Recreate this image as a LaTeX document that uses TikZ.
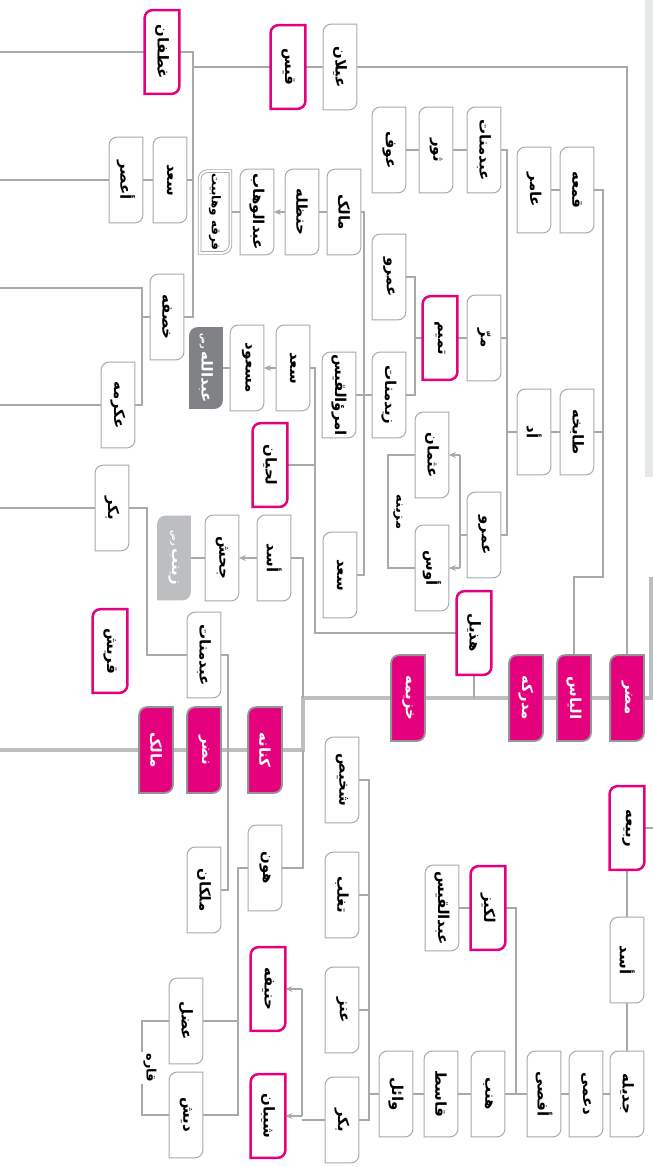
\documentclass[tikz,border=0pt]{standalone}
\usepackage{fontspec}
\usepackage{graphicx}
\newfontfamily\arabicfont[Script=Arabic]{DejaVu Sans}
\TeXXeTstate=1
\usetikzlibrary{arrows.meta}

\definecolor{tribepink}{HTML}{E5007D}
\definecolor{linegray}{HTML}{A7A9AC}
\definecolor{trunkgray}{HTML}{BCBEC0}
\definecolor{stemgray}{HTML}{939598}
\definecolor{darkbox}{HTML}{808285}
\definecolor{lightbox}{HTML}{BCBEC0}
\definecolor{stripgray}{HTML}{E6E7E8}

\pgfdeclarelayer{links}
\pgfdeclarelayer{frames}
\pgfsetlayers{links,frames,main}

% vertical Persian name
\newcommand{\vt}[1]{\rotatebox{-90}{\arabicfont\bfseries\beginR #1\endR}}
% small honorific after a name
\newcommand{\hon}{\,{\fontsize{4}{4}\selectfont رض}}
% name box: two rounded corners, frame drawn under the text
\newcommand{\fambox}[4][famplain]{%
  \node[#1] (#2) at (#3) {\vt{#4}};
  \begin{pgfonlayer}{frames}
    \draw[#1 frame] ([yshift=-4pt]#2.north west) arc[start angle=180, end angle=90, radius=4pt]
      -- (#2.north east) -- ([yshift=4pt]#2.south east) arc[start angle=0, end angle=-90, radius=4pt]
      -- (#2.south west) -- cycle;
  \end{pgfonlayer}}

\begin{document}
\begin{tikzpicture}[
  x=0.5pt, y=-0.5pt,
  famtext/.style={inner sep=0pt, minimum width=16.5pt, minimum height=42.5pt,
                  font=\fontsize{7.5}{8}\selectfont},
  famplain/.style={famtext},
  famplain frame/.style={draw=linegray, fill=white, line width=0.5pt},
  famtribe/.style={famtext, minimum width=17pt, minimum height=41.5pt},
  famtribe frame/.style={draw=tribepink, fill=white, line width=1.25pt},
  famstem/.style={famtext, text=white},
  famstem frame/.style={draw=stemgray, fill=tribepink, line width=0.9pt},
  famdark/.style={famtext, text=white, minimum width=16pt, minimum height=40pt},
  famdark frame/.style={draw=darkbox, fill=darkbox, line width=0.5pt},
  famlight/.style={famtext, text=white, minimum width=16pt, minimum height=41.5pt},
  famlight frame/.style={draw=lightbox, fill=lightbox, line width=0.5pt},
  famdouble/.style={famtext, minimum width=15pt, minimum height=40.5pt,
                    font=\fontsize{6}{6.5}\selectfont},
  famdouble frame/.style={draw=linegray, fill=white, double=white, double distance=0.9pt,
                          line width=0.45pt},
  grouplabel/.style={fill=white, inner sep=1pt, font=\fontsize{6.5}{7}\selectfont},
  link/.style={draw=linegray, line width=0.55pt},
  arr/.style={link, -{Stealth[length=3.5pt, width=3pt]}},
  trunk/.style={draw=trunkgray, line width=2pt},
]
\useasboundingbox (0,0) rectangle (653,1167);

% page edges and bus lines
\coordinate (edgeL) at (0,0);
\coordinate (edgeR) at (653,0);
\coordinate (trunkTop) at (651,577);
\coordinate (trunkStep) at (303,0);
\coordinate (qaysBus) at (193,0);
\coordinate (khasafaOut) at (142,288);
\coordinate (manatBus) at (147,0);
\coordinate (kinanaBus) at (228,0);
\coordinate (hudBus) at (315,0);
\coordinate (hunBus) at (238,0);
\coordinate (qaraBr) at (142,0);
\coordinate (bakrBus) at (302,0);
\coordinate (wailBus) at (369,0);
\coordinate (afsaBus) at (516,0);
\coordinate (ilyasBend) at (603,577);
\coordinate (uddBus) at (507,0);
\coordinate (tamimBus) at (415,0);
\coordinate (zaydBus) at (364,0);
\coordinate (amrBus) at (460,0);
\coordinate (muzBr) at (388,0);

% Qays Aylan
\fambox[famtribe]{ghatafan}{162,52}{غطفان}
\fambox[famtribe]{qays}{288,67}{قیس}
\fambox{aylan}{340,67}{عیلان}
\fambox{saadA}{170,180}{سعد}
\fambox{aasar}{126,180}{أعصر}
\fambox{khasafa}{167,317}{خصفه}
\fambox{ikrima}{118,405}{عکرمه}

% Kinana side
\fambox{bakrA}{112,508}{بکر}
\fambox[famtribe]{quraysh}{110,651}{قریش}
\fambox{abdmanatA}{204,655}{عبدمنات}
\fambox{mulkan}{204,890}{ملکان}

% Hudhayl
\fambox[famtribe]{hudhayl}{474,633}{هذیل}
\fambox{saadB}{293,368}{سعد}
\fambox{masud}{247,368}{مسعود}
\fambox[famdark]{ibnmasud}{206,368}{عبدالله\hon}
\fambox[famtribe]{lihyan}{270,465}{لحیان}

% Asad b. Khuzayma
\fambox{asadA}{274,558}{أسد}
\fambox{jahsh}{222,558}{جحش}
\fambox[famlight]{zaynab}{174,558}{زینب\hon}

% Tabikha, Udd, Tamim
\fambox{qamaa}{577,190}{قمعه}
\fambox{amir}{534,190}{عامر}
\fambox{tabikha}{577,432}{طابخه}
\fambox{udd}{534,432}{أد}
\fambox{abdmanatB}{484,150}{عبدمنات}
\fambox{thawr}{436,150}{ثور}
\fambox{awf}{389,150}{عوف}
\fambox{murr}{484,338}{مرّ}
\fambox[famtribe]{tamim}{440,338}{تمیم}
\fambox{amrA}{389,277}{عمرو}
\fambox{zaydmanat}{389,395}{زیدمنات}
\fambox{malikB}{344,212}{مالک}
\fambox{hanzala}{302,212}{حنظله}
\fambox{wahhab}{257,212}{عبدالوهاب}
\fambox[famdouble]{firqa}{215,212}{فرقه وهابیت}
\fambox{imru}{339,395}{امرؤالقیس}
\fambox{saadC}{340,575}{سعد}
\fambox{amrB}{484,535}{عمرو}
\fambox{uthman}{432,455}{عثمان}
\fambox{aws}{432,568}{أوس}
\node[grouplabel] (muzayna) at (398,512) {\vt{مزینه}};

% main line of descent
\fambox[famstem]{mudar}{627,698}{مضر}
\fambox[famstem]{ilyas}{574,698}{الیاس}
\fambox[famstem]{mudrika}{526,698}{مدرکه}
\fambox[famstem]{khuzayma}{408,698}{خزیمه}
\fambox[famstem]{kinana}{265,750}{کنانه}
\fambox[famstem]{nadr}{204,750}{نضر}
\fambox[famstem]{malikA}{156,750}{مالک}

% al-Hun
\fambox{hun}{265,868}{هون}
\fambox{adal}{186,1021}{عضل}
\fambox{dish}{186,1115}{دیش}
\node[grouplabel] (qara) at (150,1068) {\vt{قاره}};

% Rabia
\fambox[famtribe]{rabia}{627,828}{ربیعه}
\fambox{asadB}{627,960}{أسد}
\fambox{jadila}{627,1094}{جدیله}
\fambox{duma}{586,1094}{دعمی}
\fambox{afsa}{544,1094}{أفصی}
\fambox{hinb}{488,1094}{هنب}
\fambox{qasit}{441,1094}{قاسط}
\fambox{wail}{396,1094}{وائل}
\fambox[famtribe]{lakiz}{488,908}{لکیز}
\fambox{abdqays}{442,908}{عبدالقیس}
\fambox{shakhis}{342,780}{شخیص}
\fambox{taghlib}{342,895}{تغلب}
\fambox{anz}{342,1010}{عنز}
\fambox{bakrB}{342,1120}{بکر}
\fambox[famtribe]{hanifa}{268,989}{حنیفه}
\fambox[famtribe]{shayban}{268,1116}{شیبان}

\begin{pgfonlayer}{links}
% margin strip and trunk
\fill[stripgray] (645,0) rectangle (653,477);
\draw[trunk] (trunkTop) -- (trunkTop |- mudar) -- (trunkStep |- mudar)
  -- (trunkStep |- kinana) -- (kinana -| edgeL);

% Qays Aylan
\draw[link] (aylan.east) -| (mudar.north);
\draw[link] (aylan.west) -- (qays.east);
\draw[link] (qays.west) -- (qays.west -| qaysBus);
\draw[link] (ghatafan.west -| edgeL) -- (ghatafan.west);
\draw[link] (ghatafan.east) -- (ghatafan.east -| qaysBus) -- (khasafa.east -| qaysBus) -- (khasafa.east);
\draw[link] (saadA.east) -- (saadA.east -| qaysBus);
\draw[link] (saadA.west) -- (aasar.east);
\draw[link] (aasar.west) -- (aasar.west -| edgeL);
\draw[link] (khasafa.west) -- (khasafa.west -| khasafaOut);
\draw[link] (khasafaOut -| edgeL) -- (khasafaOut) -- (ikrima.east -| khasafaOut) -- (ikrima.east);
\draw[link] (ikrima.west) -- (ikrima.west -| edgeL);

% Kinana side
\draw[link] (mulkan.east) -- (mulkan.east -| kinanaBus) -- (abdmanatA.east -| kinanaBus) -- (abdmanatA.east);
\draw[link] (abdmanatA.west) -- (abdmanatA.west -| manatBus) -- (bakrA.east -| manatBus) -- (bakrA.east);
\draw[link] (bakrA.west) -- (bakrA.west -| edgeL);

% Hudhayl
\draw[link] (hudhayl.south) -- (hudhayl.south |- mudrika);
\draw[link] (hudhayl.west) -- (hudhayl.west -| hudBus) -- (saadB.east -| hudBus) -- (saadB.east);
\draw[link] (lihyan.east) -- (lihyan.east -| hudBus);
\draw[arr] (saadB.west) -- (masud.east);
\draw[link] (masud.west) -- (ibnmasud.east);

% Asad b. Khuzayma and al-Hun
\draw[link] (asadA.east) -- (asadA.east -| trunkStep) -- (trunkStep |- mudar);
\draw[arr] (asadA.west) -- (jahsh.east);
\draw[link] (jahsh.west) -- (zaynab.east);
\draw[link] (trunkStep |- kinana) -- (trunkStep |- hun) -- (hun.east);
\draw[link] (hun.west) -- (hun.west -| hunBus) -- (dish.east -| hunBus) -- (dish.east);
\draw[link] (adal.east) -- (adal.east -| hunBus);
\draw[link] (adal.west) -- (adal.west -| qaraBr) -- (dish.west -| qaraBr) -- (dish.west);

% Ilyas sons
\draw[link] (ilyas.north) |- (ilyasBend) -- (qamaa.east -| ilyasBend) -- (qamaa.east);
\draw[link] (tabikha.east) -- (tabikha.east -| ilyasBend);
\draw[link] (qamaa.west) -- (amir.east);
\draw[link] (tabikha.west) -- (udd.east);
\draw[link] (udd.west) -- (udd.west -| uddBus);
\draw[link] (abdmanatB.east) -- (abdmanatB.east -| uddBus) -- (amrB.east -| uddBus) -- (amrB.east);
\draw[link] (murr.east) -- (murr.east -| uddBus);
\draw[link] (abdmanatB.west) -- (thawr.east);
\draw[link] (thawr.west) -- (awf.east);

% Muzayna
\draw[link] (amrB.west) -- (amrB.west -| amrBus);
\draw[link] (amrBus |- uthman) -- (amrBus |- aws);
\draw[arr] (amrBus |- uthman) -- (uthman.east);
\draw[arr] (amrBus |- aws) -- (aws.east);
\draw[link] (uthman.west) -- (uthman.west -| muzBr) -- (aws.west -| muzBr) -- (aws.west);

% Tamim
\draw[link] (murr.west) -- (tamim.east);
\draw[link] (tamim.west) -- (tamim.west -| tamimBus);
\draw[link] (amrA.east) -- (amrA.east -| tamimBus) -- (zaydmanat.east -| tamimBus) -- (zaydmanat.east);
\draw[link] (zaydmanat.west) -- (imru.east);
\draw[link] (malikB.east) -- (malikB.east -| zaydBus) -- (saadC.east -| zaydBus) -- (saadC.east);
\draw[link] (malikB.west) -- (hanzala.east);
\draw[arr] (hanzala.west) -- (wahhab.east);
\draw[link] (wahhab.west) -- (firqa.east);

% Rabia
\draw[link] (rabia.east) -- (rabia.east -| edgeR);
\draw[link] (rabia.south) -- (asadB.north);
\draw[link] (asadB.south) -- (jadila.north);
\draw[link] (jadila.west) -- (duma.east);
\draw[link] (duma.west) -- (afsa.east);
\draw[link] (afsa.west) -- (hinb.east);
\draw[link] (hinb.west) -- (qasit.east);
\draw[link] (qasit.west) -- (wail.east);
\draw[link] (lakiz.east) -- (lakiz.east -| afsaBus) -- (afsaBus |- afsa);
\draw[link] (lakiz.west) -- (abdqays.east);
\draw[link] (wail.west) -- (wail.west -| wailBus);
\draw[link] (shakhis.east) -- (shakhis.east -| wailBus) -- (bakrB.east -| wailBus) -- (bakrB.east);
\draw[link] (taghlib.east) -- (taghlib.east -| wailBus);
\draw[link] (anz.east) -- (anz.east -| wailBus);
\draw[link] (bakrB.west) -- (bakrB.west -| bakrBus);
\draw[link] (bakrBus |- hanifa) -- (bakrBus |- shayban);
\draw[arr] (bakrBus |- hanifa) -- (hanifa.east);
\draw[arr] (bakrBus |- shayban) -- (shayban.east);
\end{pgfonlayer}

\end{tikzpicture}
\end{document}
